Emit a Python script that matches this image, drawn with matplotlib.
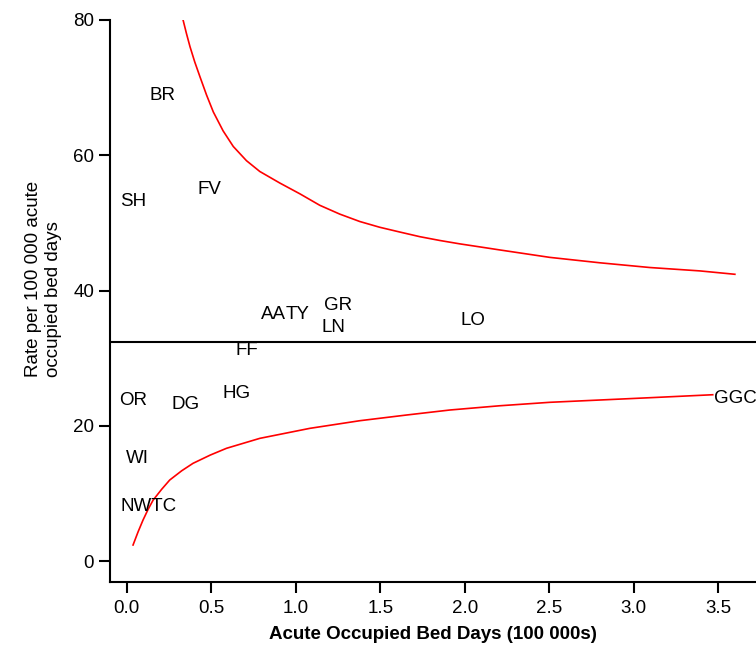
import matplotlib
matplotlib.use('Agg')
import matplotlib.pyplot as plt

plt.rcParams['font.family'] = ['Liberation Sans', 'DejaVu Sans']

# 병원 코드와 위치 (x: 재원일수 100 000 단위, y: 비율)
codes = ['BR', 'SH', 'FV', 'AA', 'TY', 'GR', 'LN', 'LO', 'FF',
         'OR', 'DG', 'HG', 'WI', 'NWTC', 'GGC']
bed_days = [0.21, 0.04, 0.49, 0.87, 1.01, 1.25, 1.22, 2.05, 0.71,
            0.04, 0.35, 0.65, 0.065, 0.13, 3.60]
rates = [68.8, 53.1, 54.9, 36.4, 36.4, 37.8, 34.6, 35.5, 31.2,
         23.7, 23.1, 24.7, 15.2, 8.0, 24.0]

mean_rate = 32.4

# 관리한계선
upper_x = [0.333, 0.353, 0.374, 0.402, 0.433, 0.472, 0.512, 0.570, 0.630,
           0.708, 0.787, 0.905, 1.024, 1.142, 1.260, 1.379, 1.497, 1.615,
           1.734, 1.852, 1.970, 2.089, 2.207, 2.503, 2.799, 3.095, 3.391, 3.598]
upper_y = [80.0, 78.0, 76.05, 73.8, 71.6, 68.9, 66.4, 63.6, 61.3,
           59.2, 57.6, 55.9, 54.3, 52.6, 51.3, 50.2, 49.35, 48.65,
           47.96, 47.4, 46.9, 46.45, 46.0, 44.9, 44.1, 43.4, 42.9, 42.4]
lower_x = [0.037, 0.067, 0.096, 0.126, 0.156, 0.206, 0.254, 0.325, 0.392,
           0.494, 0.590, 0.787, 1.083, 1.379, 1.655, 1.911, 2.207, 2.503,
           2.799, 3.095, 3.391, 3.467]
lower_y = [2.37, 4.33, 6.06, 7.64, 9.02, 10.6, 11.98, 13.35, 14.45,
           15.67, 16.67, 18.14, 19.62, 20.75, 21.59, 22.33, 22.96, 23.47,
           23.81, 24.15, 24.50, 24.59]

fig = plt.figure(figsize=(7.56, 6.45), dpi=100)
ax = fig.add_axes([110/756, 1 - 582/645, 1 - 110/756, (582 - 20)/645])

ax.plot(upper_x, upper_y, color='red', lw=1.2)
ax.plot(lower_x, lower_y, color='red', lw=1.2)
ax.axhline(mean_rate, color='black', lw=1.5)

for c, x, y in zip(codes, bed_days, rates):
    ax.text(x, y, c, ha='center', va='center', fontsize=13.5)

ax.set_xlim(-0.0994, 3.723)
ax.set_ylim(-3.1, 80)
ax.set_xticks([0.0, 0.5, 1.0, 1.5, 2.0, 2.5, 3.0, 3.5])
ax.set_xticklabels(['0.0', '0.5', '1.0', '1.5', '2.0', '2.5', '3.0', '3.5'])
ax.set_yticks([0, 20, 40, 60, 80])

for s in ['top', 'right']:
    ax.spines[s].set_visible(False)
for s in ['left', 'bottom']:
    ax.spines[s].set_linewidth(1.5)
ax.tick_params(axis='both', length=8, width=1.5, labelsize=13.5)
ax.tick_params(axis='y', pad=3.5)
ax.tick_params(axis='x', pad=5)

ax.set_xlabel('Acute Occupied Bed Days (100 000s)', fontsize=13.5, fontweight='bold')
ax.xaxis.set_label_coords(0.5, -0.078)
ax.set_ylabel('Rate per 100 000 acute\noccupied bed days', fontsize=13.5,
              multialignment='left')
ax.yaxis.set_label_coords(-0.0743, 0.54)

plt.savefig('out.png', dpi=100)
